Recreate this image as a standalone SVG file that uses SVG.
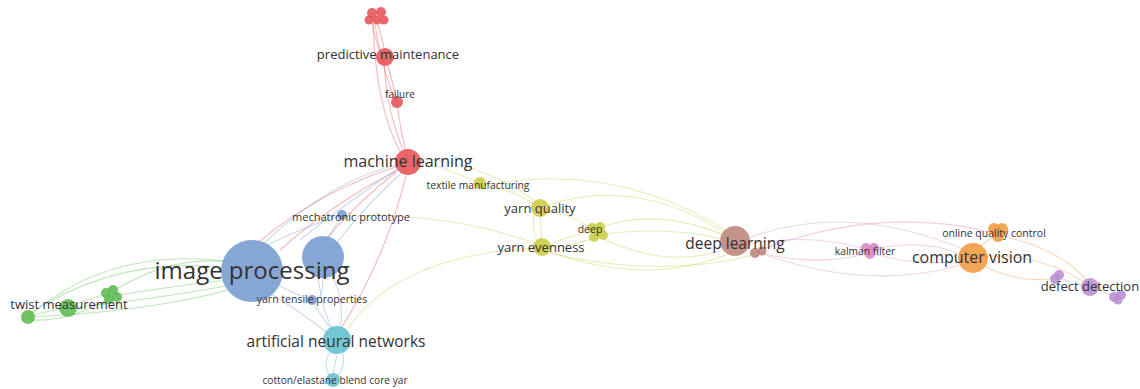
<svg xmlns="http://www.w3.org/2000/svg" width="1140" height="389" viewBox="0 0 1140 389">
<style>
text{font-family:"Open Sans","Noto Sans","DejaVu Sans",sans-serif;fill:#333333;text-anchor:middle}
.e{fill:none;stroke-width:1.1;stroke-opacity:0.42}
.er{stroke:#e8585c}.eb{stroke:#7ea4d4}.ec{stroke:#62c0cc}.eg{stroke:#6cc060}.ey{stroke:#d4cc5a}.ebr{stroke:#dca0a4}.ep{stroke:#e090c8}.eo{stroke:#f0a060}.epu{stroke:#c098d8}
.r{fill:#e65257}.b{fill:#769bd0}.c{fill:#62bfcd}.g{fill:#5fba52}.y{fill:#cccb44}.br{fill:#bc857c}.p{fill:#da88ca}.o{fill:#f39a40}.pu{fill:#ba8dd2}
circle{fill-opacity:0.88}
</style>
<rect width="1140" height="389" fill="#ffffff"/>
<g id="connectors">
<!-- red -->
<path class="e er" d="M377,22 Q383,40 386,57"/>
<path class="e er" d="M372,22 Q376,45 384,60"/>
<path class="e er" d="M375,24 Q382,70 396,102"/>
<path class="e er" d="M386,57 Q392,80 397,102"/>
<path class="e er" d="M384,60 Q386,110 404,152"/>
<path class="e er" d="M397,102 Q400,130 408,160"/>
<path class="e er" d="M373,24 Q376,110 402,155"/>
<path class="e er" d="M399,166 Q320,190 255,245"/>
<path class="e er" d="M398,170 Q330,205 280,250"/>
<path class="e er" d="M396,172 Q360,200 325,240"/>
<path class="e er" d="M406,176 Q385,260 340,330"/>
<path class="e ey" d="M420,160 Q450,170 480,183"/>
<path class="e ey" d="M420,158 Q490,165 540,205"/>
<!-- blue -->
<path class="e eb" d="M342,215 Q300,228 262,248"/>
<path class="e eb" d="M342,215 Q332,232 326,242"/>
<path class="e eb" d="M262,245 Q330,180 400,164"/>
<path class="e eb" d="M300,240 Q350,200 402,166"/>
<path class="e eb" d="M335,245 Q370,200 405,170"/>
<path class="e eb" d="M270,280 Q295,295 312,300"/>
<path class="e eb" d="M322,275 Q325,300 312,300"/>
<path class="e eb" d="M318,276 Q322,310 333,330"/>
<path class="e eb" d="M332,276 Q345,300 340,328"/>
<path class="e eb" d="M268,292 Q310,318 328,334"/>
<path class="e eb" d="M312,300 Q322,318 332,330"/>
<path class="e ey" d="M346,216 Q450,212 540,245"/>
<path class="e ey" d="M348,328 Q400,255 535,248"/>
<!-- cyan -->
<path class="e ec" d="M330,352 Q322,366 330,376"/>
<path class="e ec" d="M343,353 Q346,368 336,377"/>
<path class="e ec" d="M337,355 L333,374"/>
<!-- green -->
<path class="e eg" d="M28,317 Q110,245 232,262"/>
<path class="e eg" d="M30,313 Q120,255 226,268"/>
<path class="e eg" d="M28,317 Q150,312 236,288"/>
<path class="e eg" d="M68,308 Q150,300 232,285"/>
<path class="e eg" d="M110,293 Q170,255 228,262"/>
<path class="e eg" d="M112,296 Q180,285 230,280"/>
<path class="e eg" d="M28,317 Q50,310 68,308"/>
<path class="e eg" d="M68,308 Q90,298 110,293"/>
<path class="e eg" d="M30,320 Q70,322 110,298"/>
<!-- yellow -->
<path class="e ey" d="M480,183 Q515,190 540,208"/>
<path class="e ey" d="M540,208 L542,247"/>
<path class="e ey" d="M535,212 Q530,230 540,246"/>
<path class="e ey" d="M540,208 Q575,215 597,233"/>
<path class="e ey" d="M542,247 Q570,235 597,231"/>
<path class="e ey" d="M542,247 Q575,246 598,237"/>
<path class="e ey" d="M548,205 Q640,175 733,238"/>
<path class="e ey" d="M485,185 Q620,160 735,236"/>
<path class="e ey" d="M600,228 Q660,205 735,240"/>
<path class="e ey" d="M602,234 Q680,225 735,243"/>
<path class="e ey" d="M602,238 Q670,272 735,246"/>
<path class="e ey" d="M545,250 Q650,290 737,250"/>
<path class="e ey" d="M545,252 Q660,280 758,254"/>
<!-- brown / pink / orange / purple -->
<path class="e ebr" d="M748,238 Q850,200 970,252"/>
<path class="e ep" d="M750,244 Q810,233 866,249"/>
<path class="e ep" d="M750,250 Q810,268 866,254"/>
<path class="e ep" d="M874,249 Q925,238 962,255"/>
<path class="e ep" d="M874,254 Q925,268 962,260"/>
<path class="e ebr" d="M762,254 Q870,292 965,264"/>
<path class="e ep" d="M760,250 Q880,205 990,232"/>
<path class="e eo" d="M975,262 Q1020,285 1055,278"/>
<path class="e eo" d="M982,256 Q1045,254 1088,285"/>
<path class="e eo" d="M1002,236 Q1065,250 1090,285"/>
<path class="e eo" d="M975,250 L994,236"/>
<path class="e epu" d="M1057,277 Q1075,284 1090,287"/>
<path class="e epu" d="M1090,287 Q1105,292 1118,297"/>
</g>
<g id="node-top-red"><circle class="r" cx="372" cy="13" r="5"/><circle class="r" cx="381" cy="12" r="5"/><circle class="r" cx="369" cy="20" r="4.5"/><circle class="r" cx="384" cy="20" r="4.5"/><circle class="r" cx="377" cy="20" r="4.5"/></g>
<g id="node-predictive-maintenance"><circle class="r" cx="385" cy="57" r="9"/><text x="388" y="59" font-size="13">predictive maintenance</text></g>
<g id="node-failure"><circle class="r" cx="397" cy="102" r="6"/><text x="400" y="98" font-size="10">failure</text></g>
<g id="node-machine-learning"><circle class="r" cx="408" cy="162" r="13"/><text x="408" y="167" font-size="16">machine learning</text></g>
<g id="node-textile-manufacturing"><circle class="y" cx="480" cy="183" r="6"/><text x="478" y="189" font-size="10.3">textile manufacturing</text></g>
<g id="node-yarn-quality"><circle class="y" cx="540" cy="208" r="9"/><text x="540" y="213" font-size="13">yarn quality</text></g>
<g id="node-deep"><circle class="y" cx="592" cy="228" r="5"/><circle class="y" cx="600" cy="227" r="5"/><circle class="y" cx="603" cy="235" r="5"/><circle class="y" cx="594" cy="237" r="5"/><circle class="y" cx="598" cy="232" r="4"/><text x="590" y="233" font-size="10.5">deep</text></g>
<g id="node-yarn-evenness"><circle class="y" cx="542" cy="247" r="9"/><text x="541" y="252" font-size="13">yarn evenness</text></g>
<g id="node-mechatronic-prototype"><circle class="b" cx="342" cy="215" r="5"/><text x="351" y="221" font-size="11">mechatronic prototype</text></g>
<g id="node-blue-2"><circle class="b" cx="323" cy="257" r="21"/></g>
<g id="node-image-processing"><circle class="b" cx="252" cy="271" r="31"/><text x="252" y="279" font-size="24">image processing</text></g>
<g id="node-yarn-tensile-properties"><circle class="b" cx="312" cy="300" r="5"/><text x="312" y="303" font-size="10.5">yarn tensile properties</text></g>
<g id="node-twist-measurement"><circle class="g" cx="28" cy="317" r="7"/><circle class="g" cx="68" cy="308" r="9"/><circle class="g" cx="106" cy="293" r="5"/><circle class="g" cx="113" cy="290" r="5"/><circle class="g" cx="117" cy="297" r="5"/><circle class="g" cx="109" cy="299" r="5"/><text x="69" y="309" font-size="13">twist measurement</text></g>
<g id="node-artificial-neural-networks"><circle class="c" cx="337" cy="340" r="14"/><text x="336" y="347" font-size="15.5">artificial neural networks</text></g>
<g id="node-cotton-elastane"><circle class="c" cx="333" cy="380" r="7"/><text x="335" y="384" font-size="10.2">cotton/elastane blend core yar</text></g>
<g id="node-deep-learning"><circle class="br" cx="735" cy="241" r="15"/><circle class="br" cx="755" cy="253" r="5"/><circle class="br" cx="762" cy="251" r="4.5"/><text x="735" y="249" font-size="15.5">deep learning</text></g>
<g id="node-kalman-filter"><circle class="p" cx="866" cy="248" r="5"/><circle class="p" cx="874" cy="248" r="5"/><circle class="p" cx="870" cy="254" r="5"/><text x="865" y="255" font-size="10.3">kalman filter</text></g>
<g id="node-online-quality-control"><circle class="o" cx="994" cy="229" r="6"/><circle class="o" cx="1002" cy="229" r="6"/><circle class="o" cx="998" cy="236" r="6"/><text x="994" y="237" font-size="10.5">online quality control</text></g>
<g id="node-computer-vision"><circle class="o" cx="973" cy="258" r="15"/><text x="972" y="263" font-size="16">computer vision</text></g>
<g id="node-defect-detection"><circle class="pu" cx="1055" cy="279" r="5"/><circle class="pu" cx="1059" cy="275" r="5"/><circle class="pu" cx="1090" cy="287" r="9"/><circle class="pu" cx="1114" cy="297" r="5"/><circle class="pu" cx="1121" cy="295" r="5"/><circle class="pu" cx="1118" cy="300" r="4.5"/><text x="1090" y="291" font-size="13">defect detection</text></g>
</svg>
